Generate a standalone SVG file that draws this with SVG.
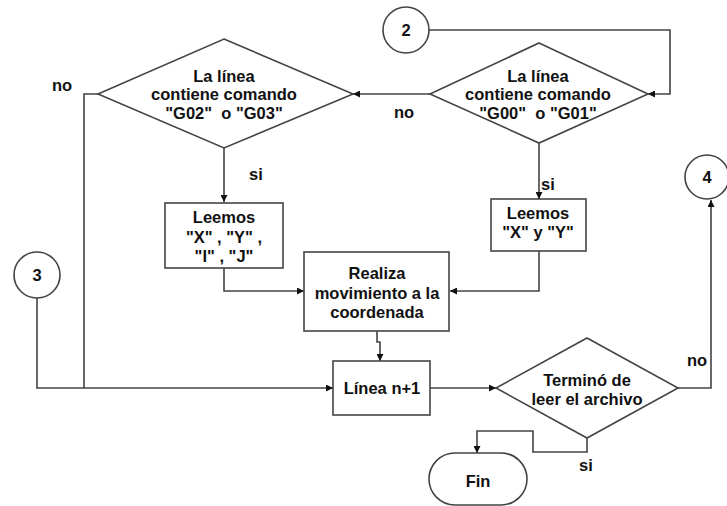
<svg xmlns="http://www.w3.org/2000/svg" width="727" height="506" viewBox="0 0 727 506">
<defs>
<marker id="arr" viewBox="0 0 10 10" refX="10" refY="5" markerWidth="7" markerHeight="7" markerUnits="userSpaceOnUse" orient="auto">
<path d="M0,0 L10,5 L0,10 z" fill="#111"/>
</marker>
</defs>
<style>
.s{fill:#fff;stroke:#444;stroke-width:1.6}
.c{fill:none;stroke:#444;stroke-width:1.6}
text{font-family:"Liberation Sans",Arial,sans-serif;font-weight:bold;font-size:16.5px;fill:#111;text-anchor:middle;white-space:pre}
.l{text-anchor:start}
</style>
<rect width="727" height="506" fill="#fff"/>
<g id="connectors">
<path class="c" d="M429,30 H670 V94 H648" marker-end="url(#arr)"/>
<path class="c" d="M430,94 H353" marker-end="url(#arr)"/>
<path class="c" d="M224,148 V202" marker-end="url(#arr)"/>
<path class="c" d="M539,143 V199" marker-end="url(#arr)"/>
<path class="c" d="M98,94 H84 V388"/>
<path class="c" d="M37,298 V388 H333" marker-end="url(#arr)"/>
<path class="c" d="M224,268 V291 H304" marker-end="url(#arr)"/>
<path class="c" d="M539,251 V291 H450" marker-end="url(#arr)"/>
<path class="c" d="M377,331 V342 H380 V361" marker-end="url(#arr)"/>
<path class="c" d="M430,388 H496" marker-end="url(#arr)"/>
<path class="c" d="M678,388 H711 V200" marker-end="url(#arr)"/>
<path class="c" d="M587,438 V452 H533 V431 H477 V453" marker-end="url(#arr)"/>
<text x="62" y="91">no</text>
<text x="404" y="118">no</text>
<text x="256" y="180">si</text>
<text class="l" x="541" y="190">si</text>
<text x="697" y="366">no</text>
<text x="586" y="471">si</text>
</g>
<g id="c2">
<circle class="s" cx="406" cy="30" r="23"/>
<text x="406" y="36">2</text>
</g>
<g id="c3">
<circle class="s" cx="37" cy="275" r="23"/>
<text x="37" y="281">3</text>
</g>
<g id="c4">
<circle class="s" cx="707" cy="177" r="22"/>
<text x="707" y="183">4</text>
</g>
<g id="d1">
<polygon class="s" points="539,43 648,94 539,143 430,94"/>
<text x="538" y="82">La línea</text>
<text x="538" y="100">contiene comando</text>
<text x="538" y="119">"G00"  o "G01"</text>
</g>
<g id="d2">
<polygon class="s" points="224,39 353,94 224,148 98,94"/>
<text x="224" y="82">La línea</text>
<text x="224" y="100">contiene comando</text>
<text x="224" y="119">"G02"  o "G03"</text>
</g>
<g id="b1">
<rect class="s" x="165" y="203" width="118" height="65"/>
<text x="224" y="223">Leemos</text>
<text x="224" y="243">"X" , "Y" ,</text>
<text x="224" y="262">"I" , "J"</text>
</g>
<g id="b2">
<rect class="s" x="491" y="199" width="95" height="52"/>
<text x="538" y="219">Leemos</text>
<text x="538" y="238">"X" y "Y"</text>
</g>
<g id="b3">
<rect class="s" x="304" y="252" width="145" height="79"/>
<text x="377" y="279">Realiza</text>
<text x="377" y="299">movimiento a la</text>
<text x="377" y="318">coordenada</text>
</g>
<g id="b4">
<rect class="s" x="333" y="361" width="97" height="54"/>
<text x="382" y="394">Línea n+1</text>
</g>
<g id="d3">
<polygon class="s" points="587,338 678,388 587,438 496,388"/>
<text x="587" y="386">Terminó de</text>
<text x="587" y="405">leer el archivo</text>
</g>
<g id="fin">
<rect class="s" x="429" y="453" width="98" height="52" rx="26"/>
<text x="478" y="487">Fin</text>
</g>
</svg>
